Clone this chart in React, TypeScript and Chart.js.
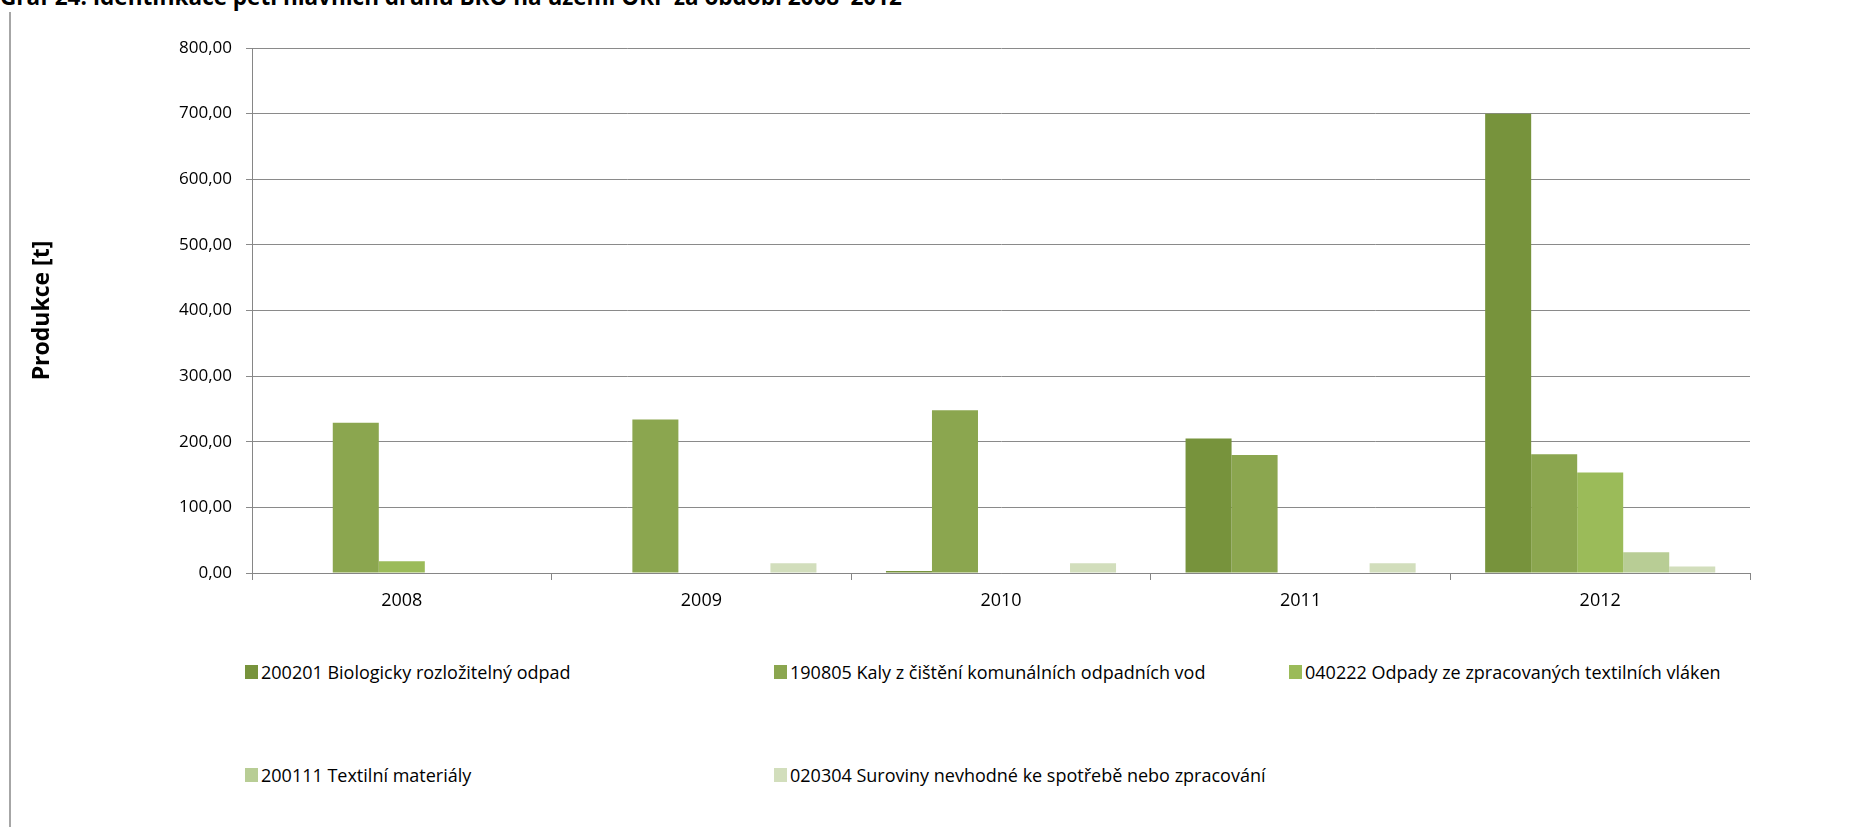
import React, { useEffect, useRef } from "react";
import { Chart, registerables } from "chart.js";

Chart.register(...registerables);

const titleText = "Graf 24: Identifikace pěti hlavních druhů BRO na území ORP za období 2008–2012";
const yAxisTitle = "Produkce [t]";
const years = ["2008", "2009", "2010", "2011", "2012"];
const seriesLabels = [
  "200201 Biologicky rozložitelný odpad",
  "190805 Kaly z čištění komunálních odpadních vod",
  "040222 Odpady ze zpracovaných textilních vláken",
  "200111 Textilní materiály",
  "020304 Suroviny nevhodné ke spotřebě nebo zpracování",
];
const s200201 = [0, 0, 3, 205, 700];
const s190805 = [229, 234, 248, 180, 181];
const s040222 = [18, 0, 0, 0, 153];
const s200111 = [0, 0, 0, 0, 31.5];
const s020304 = [0, 15, 15, 15, 10];
const seriesValues = [s200201, s190805, s040222, s200111, s020304];
const seriesColors = ["#77933C", "#8BA64F", "#9BBB59", "#B8CD95", "#D2DEBC"];
const yMin = 0;
const yMax = 800;
const yStep = 100;

const FONT = "'Open Sans', sans-serif";

export default function App() {
  const canvasRef = useRef<HTMLCanvasElement | null>(null);

  useEffect(() => {
    const canvas = canvasRef.current;
    if (!canvas) return;
    const chart = new Chart(canvas, {
      type: "bar",
      data: {
        labels: years,
        datasets: seriesLabels.map((label, i) => ({
          label,
          data: seriesValues[i],
          backgroundColor: seriesColors[i],
          borderWidth: 0,
          categoryPercentage: 0.768,
          barPercentage: 1.0,
        })),
      },
      options: {
        responsive: false,
        animation: false,
        events: [],
        layout: { padding: { left: 0, top: 48, right: 104, bottom: 0 } },
        plugins: {
          legend: { display: false },
          tooltip: { enabled: false },
          title: { display: false },
        },
        scales: {
          x: {
            offset: true,
            grid: {
              offset: true,
              drawOnChartArea: false,
              drawTicks: true,
              tickLength: 7,
              color: "#868686",
              lineWidth: 1,
            },
            border: { color: "#868686", width: 1 },
            ticks: {
              color: "#000",
              font: { family: FONT, size: 18 },
              padding: 10,
              maxRotation: 0,
            },
            afterFit: (s: any) => {
              s.height = 67;
            },
          },
          y: {
            min: yMin,
            max: yMax,
            grid: {
              color: "#8a8a8a",
              lineWidth: 1,
              drawTicks: true,
              tickLength: 6,
            },
            border: { color: "#868686", width: 1 },
            ticks: {
              stepSize: yStep,
              color: "#000",
              font: { family: FONT, size: 17 },
              padding: 14,
              callback: (v: any) => Number(v).toFixed(2).replace(".", ","),
            },
            title: {
              display: true,
              text: yAxisTitle,
              color: "#000",
              font: { family: FONT, size: 23, weight: "bold" },
              padding: { top: 29, bottom: 0 },
            },
            afterFit: (s: any) => {
              s.width = 252;
            },
          },
        },
      },
    });
    return () => chart.destroy();
  }, []);

  const legendRows = [
    [0, 1, 2],
    [3, 4],
  ];
  const colLefts = [245, 774, 1289];
  const rowCenters = [672, 775];

  return (
    <div
      style={{
        position: "fixed",
        left: 0,
        top: 0,
        width: 1854,
        height: 827,
        overflow: "hidden",
        background: "#fff",
        fontFamily: FONT,
      }}
    >
      <div
        style={{
          position: "absolute",
          left: 0,
          top: -14.5,
          fontSize: 22.5,
          lineHeight: "22.5px",
          fontWeight: "bold",
          color: "#000",
          whiteSpace: "nowrap",
        }}
      >
        {titleText}
      </div>
      <div
        style={{
          position: "absolute",
          left: 9,
          top: 12,
          width: 2,
          height: 815,
          background: "#a6a6a6",
        }}
      />
      <canvas
        ref={canvasRef}
        width={1854}
        height={640}
        style={{ position: "absolute", left: 0, top: 0, width: 1854, height: 640 }}
      />
      {legendRows.map((row, r) =>
        row.map((idx, c) => (
          <div
            key={idx}
            style={{
              position: "absolute",
              left: colLefts[c],
              top: rowCenters[r] - 13,
              height: 26,
              display: "flex",
              alignItems: "center",
              whiteSpace: "nowrap",
              fontSize: 18,
              color: "#000",
            }}
          >
            <span
              style={{
                display: "inline-block",
                width: 13,
                height: 14,
                background: seriesColors[idx],
                marginRight: 3,
              }}
            />
            <span>{seriesLabels[idx]}</span>
          </div>
        ))
      )}
    </div>
  );
}
